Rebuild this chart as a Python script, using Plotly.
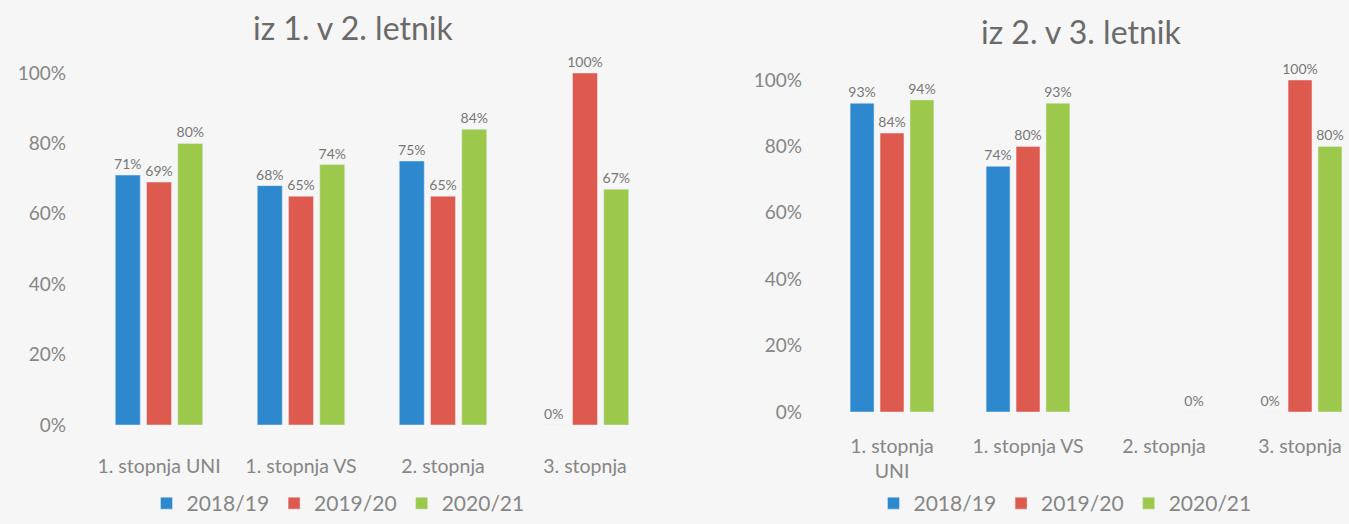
import plotly.graph_objects as go

categories_left = ["1. stopnja UNI", "1. stopnja VS", "2. stopnja", "3. stopnja"]
categories_right = ["1. stopnja<br>UNI", "1. stopnja VS", "2. stopnja", "3. stopnja"]
years = ["2018/19", "2019/20", "2020/21"]

left_2018 = [0.71, 0.68, 0.75, 0.00]
left_2019 = [0.69, 0.65, 0.65, 1.00]
left_2020 = [0.80, 0.74, 0.84, 0.67]

right_2018 = [0.93, 0.74, None, 0.00]
right_2019 = [0.84, 0.80, None, 1.00]
right_2020 = [0.94, 0.93, 0.00, 0.80]

title_left = "iz 1. v 2. letnik"
title_right = "iz 2. v 3. letnik"
y_ticks = [0, 0.2, 0.4, 0.6, 0.8, 1.0]
y_ticktext = ["0%", "20%", "40%", "60%", "80%", "100%"]

colors = ["#2d88cd", "#df5a4e", "#9cc94b"]
FONT = "Lato"
GRAY = "#868686"
W, H = 1349, 524

fig = go.Figure()

left_series = [left_2018, left_2019, left_2020]
right_series = [right_2018, right_2019, right_2020]

label_font = dict(size=14, color="#777777", family=FONT)

for i, (name, vals) in enumerate(zip(years, left_series)):
    fig.add_trace(go.Bar(
        x=categories_left, y=vals, name=name, marker_color=colors[i],
        xaxis="x", yaxis="y", legend="legend",
        texttemplate="%{y:.0%}", textposition="outside", constraintext="none",
        textfont=label_font, cliponaxis=False, offsetgroup=str(i),
    ))
for i, (name, vals) in enumerate(zip(years, right_series)):
    fig.add_trace(go.Bar(
        x=categories_right, y=vals, name=name, marker_color=colors[i],
        xaxis="x2", yaxis="y2", legend="legend2",
        texttemplate="%{y:.0%}", textposition="outside", constraintext="none",
        textfont=label_font, cliponaxis=False, offsetgroup=str(i),
    ))

def px_x(p):
    return p / W

def px_y(p):
    return (H - p) / H

ytick_font = dict(family=FONT, size=19, color=GRAY)
xtick_font = dict(family=FONT, size=19.5, color=GRAY)
legend_font = dict(family=FONT, size=21, color=GRAY)

fig.update_layout(
    width=W, height=H,
    margin=dict(l=0, r=0, t=0, b=0, autoexpand=False),
    paper_bgcolor="#f6f6f6", plot_bgcolor="#f6f6f6",
    barmode="group", bargap=0.34, bargroupgap=0.2,
    font=dict(family=FONT, color=GRAY),
    xaxis=dict(domain=[px_x(88), px_x(656)], range=[-0.5, 3.5],
               showgrid=False, zeroline=False, showline=False, ticks="",
               tickfont=xtick_font, ticklabelstandoff=27, anchor="y"),
    yaxis=dict(domain=[px_y(425), px_y(73)], range=[0, 1.0],
               tickvals=y_ticks, ticktext=y_ticktext,
               showgrid=False, zeroline=False, showline=False, ticks="",
               tickfont=ytick_font, ticklabelstandoff=21, anchor="x"),
    xaxis2=dict(domain=[px_x(824), 1.0], range=[-0.5, 3.36],
                showgrid=False, zeroline=False, showline=False, ticks="",
                tickfont=xtick_font, ticklabelstandoff=20, anchor="y2"),
    yaxis2=dict(domain=[px_y(412), px_y(80)], range=[0, 1.0],
                tickvals=y_ticks, ticktext=y_ticktext,
                showgrid=False, zeroline=False, showline=False, ticks="",
                tickfont=ytick_font, ticklabelstandoff=21, anchor="x2"),
    legend=dict(orientation="h", x=px_x(338), xanchor="center",
                y=0, yanchor="bottom", bgcolor="rgba(0,0,0,0)",
                font=legend_font, itemwidth=30, tracegroupgap=0),
    legend2=dict(orientation="h", x=px_x(1065), xanchor="center",
                 y=0, yanchor="bottom", bgcolor="rgba(0,0,0,0)",
                 font=legend_font, itemwidth=30, tracegroupgap=0),
    annotations=[
        dict(text=title_left, x=px_x(353), y=px_y(28), xref="paper", yref="paper",
             showarrow=False, xanchor="center", yanchor="middle",
             font=dict(family=FONT, size=32, color="#6a6a6a")),
        dict(text=title_right, x=px_x(1081), y=px_y(32), xref="paper", yref="paper",
             showarrow=False, xanchor="center", yanchor="middle",
             font=dict(family=FONT, size=32, color="#6a6a6a")),
    ],
)

fig.write_html("out.html", config={"displayModeBar": False},
               post_script="document.body.style.margin='0px';")
